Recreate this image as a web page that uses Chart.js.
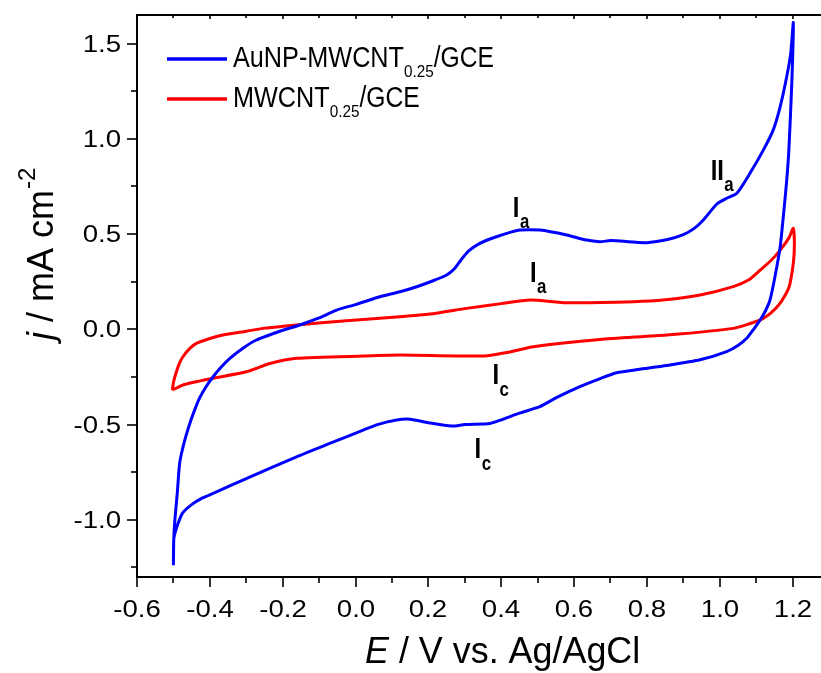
<!DOCTYPE html>
<html>
<head>
<meta charset="utf-8">
<script src="https://cdn.jsdelivr.net/npm/chart.js@4.4.0/dist/chart.umd.min.js"></script>
<style>
  html, body { margin: 0; padding: 0; background: #fff; overflow: hidden; }
  canvas { display: block; }
</style>
</head>
<body>
<canvas id="cvChart" width="840" height="673"></canvas>
<script>
// AuNP-MWCNT0.25/GCE, one full cycle (anodic sweep then cathodic)
const blueE = [-0.500, -0.499, -0.496, -0.489, -0.483, -0.470, -0.455, -0.440, -0.428, -0.410, -0.391, -0.370, -0.345, -0.310, -0.272, -0.200, -0.153, -0.100, -0.052, 0.000, 0.067, 0.122, 0.170, 0.213, 0.250, 0.270, 0.290, 0.310, 0.340, 0.387, 0.451, 0.506, 0.580, 0.630, 0.671, 0.700, 0.763, 0.800, 0.854, 0.900, 0.930, 0.955, 0.992, 1.019, 1.047, 1.083, 1.120, 1.147, 1.166, 1.184, 1.195, 1.202,
    1.198, 1.190, 1.184, 1.175, 1.166, 1.152, 1.138, 1.125, 1.111, 1.093, 1.074, 1.050, 1.019, 0.946, 0.854, 0.780, 0.717, 0.670, 0.616, 0.550, 0.506, 0.450, 0.400, 0.369, 0.300, 0.264, 0.200, 0.150, 0.113, 0.060, 0.021, -0.071, -0.162, -0.300, -0.391, -0.420, -0.450, -0.475, -0.492, -0.499, -0.500];
const blueJ = [-1.238, -1.100, -1.000, -0.850, -0.704, -0.590, -0.494, -0.415, -0.360, -0.300, -0.249, -0.200, -0.152, -0.100, -0.056, -0.005, 0.023, 0.060, 0.101, 0.130, 0.171, 0.197, 0.225, 0.255, 0.285, 0.315, 0.365, 0.410, 0.450, 0.486, 0.521, 0.521, 0.495, 0.470, 0.460, 0.466, 0.458, 0.455, 0.470, 0.497, 0.530, 0.574, 0.658, 0.688, 0.714, 0.819, 0.942, 1.047, 1.169, 1.327, 1.450, 1.610,
    1.300, 0.950, 0.784, 0.600, 0.434, 0.280, 0.154, 0.095, 0.049, 0.000, -0.047, -0.085, -0.117, -0.160, -0.190, -0.210, -0.228, -0.260, -0.301, -0.360, -0.406, -0.440, -0.475, -0.494, -0.500, -0.508, -0.490, -0.472, -0.476, -0.500, -0.529, -0.599, -0.669, -0.783, -0.861, -0.885, -0.920, -0.965, -1.045, -1.100, -1.238];

// MWCNT0.25/GCE
const redE = [-0.503, -0.500, -0.496, -0.485, -0.474, -0.455, -0.437, -0.400, -0.364, -0.300, -0.254, -0.162, -0.025, 0.122, 0.204, 0.305, 0.400, 0.479, 0.580, 0.763, 0.850, 0.946, 1.037, 1.080, 1.111, 1.140, 1.166, 1.190, 1.202,
    1.205, 1.202, 1.190, 1.166, 1.140, 1.111, 1.037, 0.854, 0.671, 0.488, 0.420, 0.351, 0.122, 0.021, -0.162, -0.235, -0.300, -0.391, -0.474, -0.503];
const redJ = [-0.319, -0.280, -0.249, -0.185, -0.144, -0.100, -0.074, -0.048, -0.030, -0.010, 0.005, 0.023, 0.045, 0.066, 0.080, 0.110, 0.135, 0.154, 0.140, 0.145, 0.155, 0.180, 0.224, 0.260, 0.311, 0.360, 0.416, 0.480, 0.530,
    0.450, 0.347, 0.220, 0.137, 0.085, 0.049, 0.005, -0.030, -0.053, -0.091, -0.120, -0.140, -0.135, -0.140, -0.152, -0.179, -0.223, -0.257, -0.292, -0.319];

const xTicks = [-0.6, -0.4, -0.2, 0.0, 0.2, 0.4, 0.6, 0.8, 1.0, 1.2];
const xMinor = [-0.5, -0.3, -0.1, 0.1, 0.3, 0.5, 0.7, 0.9, 1.1, 1.3];
const yTicks = [-1.0, -0.5, 0.0, 0.5, 1.0, 1.5];
const yMinor = [-1.25, -0.75, -0.25, 0.25, 0.75, 1.25];

const seriesNames = ['AuNP-MWCNT', 'MWCNT'];
const seriesColors = ['#0000ff', '#ff0000'];

// peak labels: main letter(s), subscript, left/baseline in data units
const peakText = ['II', 'I', 'I', 'I', 'I'];
const peakSub = ['a', 'a', 'a', 'c', 'c'];
const peakE = [0.975, 0.432, 0.479, 0.376, 0.327];
const peakJ = [0.784, 0.591, 0.250, -0.287, -0.676];

function toPoints(xs, ys) {
    return xs.map((x, i) => ({ x: x, y: ys[i] }));
}

// draws text squeezed/stretched horizontally by sx, returns drawn width
function stretchText(ctx, text, x, y, font, sx, align) {
    ctx.save();
    ctx.font = font;
    const w = ctx.measureText(text).width * sx;
    let left = x;
    if (align === 'right') left = x - w;
    else if (align === 'center') left = x - w / 2;
    ctx.translate(left, y);
    ctx.scale(sx, 1);
    ctx.textAlign = 'left';
    ctx.fillText(text, 0, 0);
    ctx.restore();
    return w;
}

const FONT = '"Liberation Sans", Arial, sans-serif';

const decorPlugin = {
    id: 'decor',
    afterDraw(chart) {
        const ctx = chart.ctx;
        const xs = chart.scales.x;
        const ys = chart.scales.y;
        const a = chart.chartArea;
        ctx.save();
        ctx.fillStyle = '#000';
        ctx.strokeStyle = '#000';
        ctx.textBaseline = 'alphabetic';

        // frame
        ctx.lineWidth = 2;
        ctx.beginPath();
        ctx.moveTo(a.right + 5, a.top);
        ctx.lineTo(a.left, a.top);
        ctx.lineTo(a.left, a.bottom);
        ctx.lineTo(a.right + 5, a.bottom);
        ctx.stroke();

        // x ticks
        ctx.lineWidth = 1.6;
        xTicks.forEach(v => {
            const px = Math.round(xs.getPixelForValue(v));
            ctx.beginPath();
            ctx.moveTo(px, a.bottom); ctx.lineTo(px, a.bottom + 10);
            ctx.moveTo(px, a.top); ctx.lineTo(px, a.top + 4);
            ctx.stroke();
            stretchText(ctx, v.toFixed(1), px, 617, '23px ' + FONT, 1.2, 'center');
        });
        xMinor.forEach(v => {
            const px = Math.round(xs.getPixelForValue(v));
            ctx.beginPath();
            ctx.moveTo(px, a.bottom); ctx.lineTo(px, a.bottom + 6);
            ctx.moveTo(px, a.top); ctx.lineTo(px, a.top + 3);
            ctx.stroke();
        });

        // y ticks
        yTicks.forEach(v => {
            const py = Math.round(ys.getPixelForValue(v));
            ctx.beginPath();
            ctx.moveTo(a.left, py); ctx.lineTo(a.left - 10, py);
            ctx.stroke();
            stretchText(ctx, v.toFixed(1), 121, py + 8.3, '23px ' + FONT, 1.2, 'right');
        });
        yMinor.forEach(v => {
            const py = Math.round(ys.getPixelForValue(v));
            ctx.beginPath();
            ctx.moveTo(a.left, py); ctx.lineTo(a.left - 6, py);
            ctx.stroke();
        });

        // x title: E / V vs. Ag/AgCl
        let cx = 365;
        cx += stretchText(ctx, 'E', cx, 663, 'italic 37px ' + FONT, 0.97, 'left');
        stretchText(ctx, ' / V vs. Ag/AgCl', cx, 663, '37px ' + FONT, 0.97, 'left');

        // y title: j / mA cm-2, rotated
        ctx.save();
        ctx.translate(53, 340);
        ctx.rotate(-Math.PI / 2);
        let cy = 0;
        cy += stretchText(ctx, 'j', cy, 0, 'italic 36px ' + FONT, 1, 'left');
        cy += stretchText(ctx, ' / mA cm', cy, 0, '36px ' + FONT, 1, 'left');
        stretchText(ctx, '-2', cy + 1, -18, '24px ' + FONT, 1, 'left');
        ctx.restore();

        // legend
        const legendY = [59, 99];
        const legendBase = [66.5, 107];
        seriesNames.forEach((name, i) => {
            ctx.strokeStyle = seriesColors[i];
            ctx.lineWidth = 3.5;
            ctx.beginPath();
            ctx.moveTo(167, legendY[i]); ctx.lineTo(227, legendY[i]);
            ctx.stroke();
            let lx = 233;
            lx += stretchText(ctx, name, lx, legendBase[i], '29px ' + FONT, 0.87, 'left');
            lx += stretchText(ctx, '0.25', lx, legendBase[i] + 10, '17px ' + FONT, 0.9, 'left');
            stretchText(ctx, '/GCE', lx, legendBase[i], '29px ' + FONT, 0.85, 'left');
        });

        // peak labels
        peakText.forEach((t, i) => {
            const px = xs.getPixelForValue(peakE[i]);
            const py = ys.getPixelForValue(peakJ[i]);
            const w = stretchText(ctx, t, px, py, 'bold 29px ' + FONT, 0.82, 'left');
            stretchText(ctx, peakSub[i], px + w + 0.5, py + 11.5, 'bold 21px ' + FONT, 0.8, 'left');
        });

        ctx.restore();
    }
};

const ctx = document.getElementById('cvChart').getContext('2d');
new Chart(ctx, {
    type: 'scatter',
    data: {
        datasets: [
            {
                label: seriesNames[0],
                data: toPoints(blueE, blueJ),
                showLine: true,
                borderColor: seriesColors[0],
                borderWidth: 3,
                pointRadius: 0,
                tension: 0.2
            },
            {
                label: seriesNames[1],
                data: toPoints(redE, redJ),
                showLine: true,
                borderColor: seriesColors[1],
                borderWidth: 3,
                pointRadius: 0,
                tension: 0.2
            }
        ]
    },
    options: {
        responsive: false,
        animation: false,
        devicePixelRatio: 1,
        layout: { padding: { left: 137, top: 15, right: 11, bottom: 96 } },
        plugins: {
            legend: { display: false },
            tooltip: { enabled: false }
        },
        scales: {
            x: { type: 'linear', min: -0.6, max: 1.3, display: false },
            y: { type: 'linear', min: -1.3, max: 1.65, display: false }
        }
    },
    plugins: [decorPlugin]
});
</script>
</body>
</html>
